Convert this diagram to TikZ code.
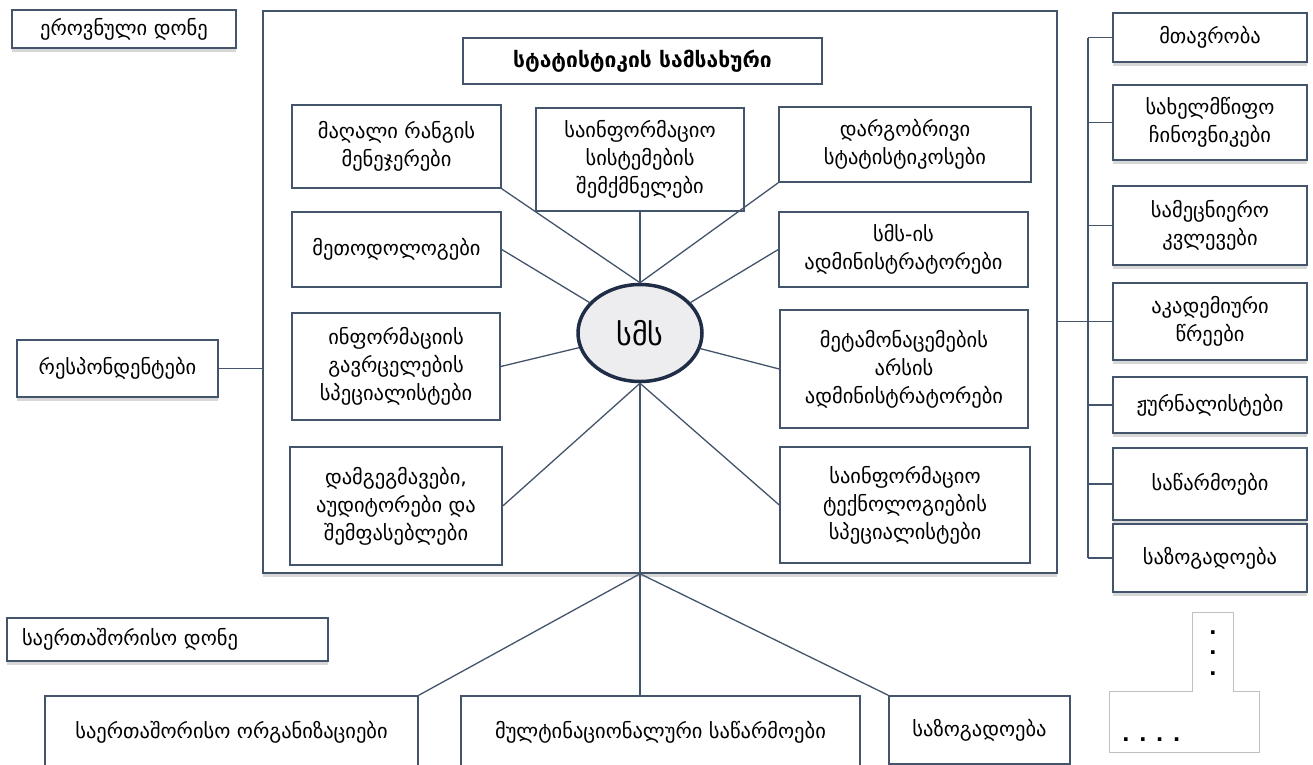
\documentclass[tikz,border=0pt]{standalone}
\usepackage{fontspec}
\setmainfont{DejaVu Sans}
\usetikzlibrary{shadows,shapes.geometric}
\definecolor{bc}{HTML}{44546A}
\definecolor{ec}{HTML}{1F2D46}
\definecolor{ef}{HTML}{EDEDF0}
\definecolor{tg}{HTML}{C0C0C0}
\tikzset{
  box/.style={draw=bc, line width=1.5pt, fill=white, align=center, inner sep=0pt, font=\fontsize{20.5}{28}\selectfont, text=black},
  shbox/.style={box, drop shadow={shadow xshift=0pt, shadow yshift=-4pt, opacity=0.22, fill=black!70}},
  conn/.style={draw=bc, line width=1.3pt},
}
\begin{document}
\begin{tikzpicture}[x=1pt,y=-1pt]
\useasboundingbox[fill=white] (0,0) rectangle (1313,764);
% main box
\node[shbox, minimum width=794, minimum height=562] (main) at (660,292) {};
% level labels
\node[shbox, minimum width=224, minimum height=38] (ero) at (124,29) {ეროვნული დონე};
\node[shbox, minimum height=43, inner xsep=15pt, text width=291pt, align=left] (intl) at (167.5,639.5) {საერთაშორისო დონე};
% title
\node[box, minimum width=359, minimum height=46, font=\fontsize{21}{28}\selectfont\bfseries] (stat) at (642.5,61) {სტატისტიკის სამსახური};
% inner boxes
\node[box, minimum width=209, minimum height=83] (mag) at (396.5,146.5) {მაღალი რანგის\\მენეჯერები};
\node[box, minimum width=208, minimum height=103] (sis) at (640,159.5) {საინფორმაციო\\სისტემების\\შემქმნელები};
\node[box, minimum width=252, minimum height=75] (darg) at (905,144.5) {დარგობრივი\\სტატისტიკოსები};
\node[box, minimum width=209, minimum height=75] (met) at (396.5,249.5) {მეთოდოლოგები};
\node[box, minimum width=249, minimum height=75] (sms) at (903.5,249.5) {სმს-ის\\ადმინისტრატორები};
\node[box, minimum width=208, minimum height=107] (inf) at (396,366.5) {ინფორმაციის\\გავრცელების\\სპეციალისტები};
\node[box, minimum width=248, minimum height=118] (meta) at (904,369) {მეტამონაცემების\\არსის\\ადმინისტრატორები};
\node[box, minimum width=212, minimum height=118] (dam) at (396,506) {დამგეგმავები,\\აუდიტორები და\\შემფასებლები};
\node[box, minimum width=250, minimum height=116] (tek) at (905,505) {საინფორმაციო\\ტექნოლოგიების\\სპეციალისტები};
% center ellipse
\node[ellipse, draw=ec, line width=3.5pt, fill=ef, minimum width=124, minimum height=97, inner sep=0pt, font=\fontsize{30}{32}\selectfont] (ell) at (640,333) {სმს};
% spokes
\draw[conn] (mag.south east) -- (ell.north);
\draw[conn] (sis.south) -- (ell.north);
\draw[conn] (darg.south west) -- (ell.north);
\draw[conn] (met.east) -- (ell);
\draw[conn] (sms.west) -- (ell);
\draw[conn] (inf.east) -- (ell);
\draw[conn] (meta.west) -- (ell);
\draw[conn] (dam.east) -- (ell.south);
\draw[conn] (tek.west) -- (ell.south);
\coordinate (J) at (ell.south |- main.south);
\draw[conn] (ell.south) -- (J);
% respondents
\node[shbox, minimum width=201, minimum height=57] (rsp) at (117.5,368.5) {რესპონდენტები};
\draw[conn] (rsp.east) -- (rsp.east -| main.west);
% right column
\node[shbox, minimum width=194, minimum height=49] (r1) at (1210,37.5) {მთავრობა};
\node[shbox, minimum width=194, minimum height=75] (r2) at (1210,122.5) {სახელმწიფო\\ჩინოვნიკები};
\node[shbox, minimum width=194, minimum height=79] (r3) at (1210,225.5) {სამეცნიერო\\კვლევები};
\node[shbox, minimum width=194, minimum height=77] (r4) at (1210,321.5) {აკადემიური\\წრეები};
\node[shbox, minimum width=194, minimum height=56] (r5) at (1210,405) {ჟურნალისტები};
\node[shbox, minimum width=194, minimum height=72] (r6) at (1210,484) {საწარმოები};
\node[shbox, minimum width=194, minimum height=68] (r7) at (1210,558) {საზოგადოება};
\coordinate (sp1) at (1088,37.5);
\coordinate (sp7) at (1088,558);
\draw[conn] (sp1) -- (sp7);
\foreach \r in {r1,r2,r3,r5,r6,r7} { \draw[conn] (\r.west) -- (\r.west -| sp1); }
\draw[conn] (r4.west) -- (r4.west -| main.east);
% bottom boxes
\node[box, minimum width=373, minimum height=72] (org) at (231.5,732) {საერთაშორისო ორგანიზაციები};
\node[box, minimum width=399, minimum height=72] (mult) at (660.5,732) {მულტინაციონალური საწარმოები};
\node[box, minimum width=181, minimum height=68] (soc) at (979.5,730) {საზოგადოება};
\draw[conn] (J) -- (org.north east);
\draw[conn] (J) -- (J |- mult.north);
\draw[conn] (J) -- (soc.north west);
% T shape
\draw[tg, line width=1pt] (1192,612) -- (1233,612) -- (1233,691) -- (1259,691) -- (1259,752) -- (1109,752) -- (1109,691) -- (1192,691) -- cycle;
\node[font=\fontsize{20}{20.5}\selectfont\bfseries, align=center, inner sep=0pt] (vd) at (1213,653) {.\\.\\.};
\node[font=\fontsize{20}{20}\selectfont\bfseries, inner sep=0pt, anchor=west] (hd) at (1122,740) {. . . .};
\end{tikzpicture}
\end{document}
